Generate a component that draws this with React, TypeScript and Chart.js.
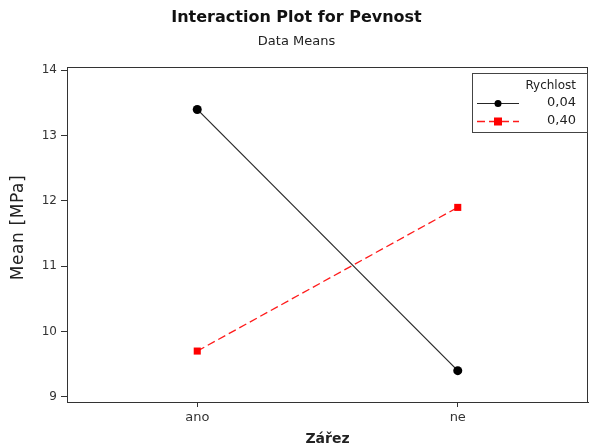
import React, { useEffect, useRef } from "react";
import { Chart, registerables } from "chart.js";

Chart.register(...registerables);

const categories = ["ano", "ne"];
const seriesNames = ["0,04", "0,40"];
const slowValues = [13.4, 9.4];
const fastValues = [9.7, 11.9];
const yTicks = [9, 10, 11, 12, 13, 14];

const FONT = "'DejaVu Sans', Verdana, sans-serif";

const overlay = {
  id: "overlay",
  afterDraw(chart: any) {
    const { ctx, chartArea } = chart;
    const W = chart.width;
    ctx.save();
    // titles
    ctx.fillStyle = "#111";
    ctx.textAlign = "center";
    ctx.textBaseline = "middle";
    ctx.font = `bold 16px ${FONT}`;
    ctx.fillText("Interaction Plot for Pevnost", W / 2, 18);
    ctx.fillStyle = "#222";
    ctx.font = `13px ${FONT}`;
    ctx.fillText("Data Means", W / 2, 42);
    // y axis title
    ctx.save();
    ctx.translate(19, (chartArea.top + chartArea.bottom) / 2 - 7);
    ctx.rotate(-Math.PI / 2);
    ctx.font = `17px ${FONT}`;
    (ctx as any).letterSpacing = "0.6px";
    ctx.fillStyle = "#222";
    ctx.fillText("Mean [MPa]", 0, 0);
    ctx.restore();
    // frame
    ctx.strokeStyle = "#333";
    ctx.lineWidth = 1;
    ctx.strokeRect(Math.round(chartArea.left) + 0.5, Math.round(chartArea.top) + 0.5,
      Math.round(chartArea.right - chartArea.left) - 1, Math.round(chartArea.bottom - chartArea.top));
    // legend
    const lx = 472.5, ly = 73.5, lw = 115, lh = 59;
    ctx.fillStyle = "#fff";
    ctx.fillRect(lx, ly, lw, lh);
    ctx.strokeStyle = "#444";
    ctx.strokeRect(lx, ly, lw, lh);
    ctx.fillStyle = "#222";
    ctx.font = `12px ${FONT}`;
    ctx.textAlign = "right";
    ctx.fillText("Rychlost", 576, 86);
    const ds = chart.data.datasets;
    const rows = [103, 121];
    ds.forEach((d: any, i: number) => {
      const y = rows[i] + 0.5;
      ctx.strokeStyle = d.borderColor;
      ctx.lineWidth = d.borderWidth;
      ctx.setLineDash(d.borderDash || []);
      ctx.beginPath();
      ctx.moveTo(477, y);
      ctx.lineTo(519, y);
      ctx.stroke();
      ctx.setLineDash([]);
      ctx.fillStyle = d.pointBackgroundColor;
      if (d.pointStyle === "rect") {
        ctx.fillRect(494, y - 4, 8, 8);
      } else {
        ctx.beginPath();
        ctx.arc(498, y, 3.5, 0, Math.PI * 2);
        ctx.fill();
      }
      ctx.fillStyle = "#222";
      ctx.font = `13px ${FONT}`;
      ctx.textAlign = "right";
      ctx.fillText(d.label, 576, rows[i]);
    });
    ctx.restore();
  },
};

export default function App() {
  const ref = useRef<HTMLCanvasElement>(null);
  useEffect(() => {
    document.body.style.margin = "0";
    const chart = new Chart(ref.current!, {
      type: "line",
      data: {
        labels: categories,
        datasets: [
          {
            label: seriesNames[0],
            data: slowValues,
            borderColor: "#262626",
            borderWidth: 1.2,
            pointStyle: "circle",
            pointRadius: 4.5,
            pointBackgroundColor: "#000",
            pointBorderColor: "#000",
            pointBorderWidth: 0,
          },
          {
            label: seriesNames[1],
            data: fastValues,
            borderColor: "#ff1a1a",
            borderWidth: 1.3,
            borderDash: [8, 4],
            pointStyle: "rect",
            pointRadius: 5,
            pointBackgroundColor: "#ff0000",
            pointBorderColor: "#ff0000",
            pointBorderWidth: 0,
          },
        ],
      },
      options: {
        animation: false,
        responsive: false,
        layout: { padding: { top: 67, right: 1, left: 0, bottom: 0 } },
        plugins: { legend: { display: false }, title: { display: false }, tooltip: { enabled: false } },
        scales: {
          x: {
            type: "category",
            offset: true,
            grid: { drawOnChartArea: false, drawTicks: true, tickLength: 5, color: "#333", offset: false },
            border: { display: true, color: "#333" },
            ticks: { color: "#333", font: { family: FONT, size: 13 }, padding: 3 },
            title: { display: true, text: "Zářez", color: "#222", font: { family: FONT, size: 14, weight: "bold" }, padding: { top: 0, bottom: 0 } },
            afterFit(scale: any) { scale.height = 46; },
          },
          y: {
            min: 8.92,
            max: 14.05,
            afterBuildTicks(scale: any) { scale.ticks = yTicks.map((v) => ({ value: v })); },
            grid: { drawOnChartArea: false, drawTicks: true, tickLength: 6, color: "#333" },
            border: { display: true, color: "#333" },
            ticks: { color: "#333", font: { family: FONT, size: 12 }, padding: 4 },
            title: { display: false },
            afterFit(scale: any) { scale.width = 67; },
          },
        },
      },
      plugins: [overlay],
    });
    return () => chart.destroy();
  }, []);
  return <canvas ref={ref} width={593} height={448} style={{ display: "block" }} />;
}
